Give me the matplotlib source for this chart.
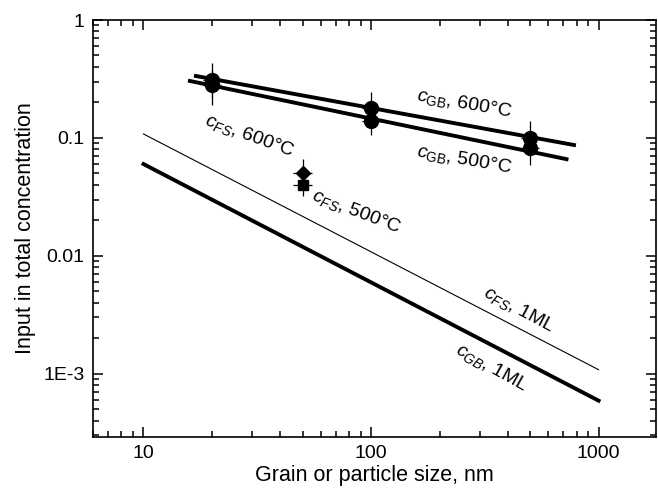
import matplotlib
matplotlib.use("Agg")
import matplotlib.pyplot as plt
from matplotlib.ticker import LogLocator, FixedLocator, FixedFormatter, NullFormatter

plt.rcParams['font.family'] = ['Liberation Sans', 'DejaVu Sans']
plt.rcParams['mathtext.fontset'] = 'custom'
plt.rcParams['mathtext.rm'] = 'Liberation Sans'
plt.rcParams['mathtext.it'] = 'Liberation Sans:italic'

# Data
size_pts = [20, 100, 500]
gb600 = [0.31, 0.18, 0.10]
gb600_lo = [0.22, 0.13, 0.07]
gb600_hi = [0.43, 0.245, 0.14]
gb500 = [0.28, 0.14, 0.082]
gb500_lo = [0.19, 0.106, 0.059]
gb500_hi = [0.38, 0.19, 0.115]

fs_size = [50]
fs600 = [0.050]
fs600_lo = [0.038]
fs600_hi = [0.066]
fs500 = [0.040]
fs500_lo = [0.032]
fs500_hi = [0.052]

fit600_x = [17, 780]
fit600_y = [0.335, 0.087]
fit500_x = [16, 723]
fit500_y = [0.304, 0.066]

ml_x = [10, 1000]
fs1ml_y = [0.108, 0.00108]
gb1ml_y = [0.060, 0.00059]

xticks = [10, 100, 1000]
xticklabels = ['10', '100', '1000']
yticks = [1e-3, 1e-2, 1e-1, 1]
yticklabels = ['1E-3', '0.01', '0.1', '1']

fig = plt.figure(figsize=(6.58, 4.88), dpi=100)
ax = fig.add_axes([0.1413, 0.1045, 0.855, 0.8545])
ax.set_xscale('log')
ax.set_yscale('log')

ax.plot(ml_x, fs1ml_y, color='black', lw=0.8)
ax.plot(ml_x, gb1ml_y, color='black', lw=2.8)
ax.plot(fit600_x, fit600_y, color='black', lw=2.8)
ax.plot(fit500_x, fit500_y, color='black', lw=2.8)

def eb(x, y, lo, hi, marker, ms):
    yerr = [[v - l for v, l in zip(y, lo)], [h - v for v, h in zip(y, hi)]]
    xerr = [[v * 0.09 for v in x], [v * 0.1 for v in x]]
    ax.errorbar(x, y, yerr=yerr, xerr=xerr, fmt=marker, color='black',
                ms=ms, elinewidth=0.9, capsize=0, zorder=3)

eb(size_pts, gb600, gb600_lo, gb600_hi, 'o', 10)
eb(size_pts, gb500, gb500_lo, gb500_hi, 'o', 10)
eb(fs_size, fs600, fs600_lo, fs600_hi, 'D', 7)
eb(fs_size, fs500, fs500_lo, fs500_hi, 's', 7)

ax.set_xlim(6, 1780)
ax.set_ylim(2.9e-4, 1)

ax.xaxis.set_major_locator(FixedLocator(xticks))
ax.xaxis.set_major_formatter(FixedFormatter(xticklabels))
ax.yaxis.set_major_locator(FixedLocator(yticks))
ax.yaxis.set_major_formatter(FixedFormatter(yticklabels))
ax.xaxis.set_minor_locator(LogLocator(base=10, subs=range(2, 10), numticks=20))
ax.yaxis.set_minor_locator(LogLocator(base=10, subs=range(2, 10), numticks=20))
ax.xaxis.set_minor_formatter(NullFormatter())
ax.yaxis.set_minor_formatter(NullFormatter())

ax.tick_params(which='both', direction='in', top=True, right=True, width=1.1, labelsize=14)
ax.tick_params(which='major', length=7)
ax.tick_params(which='minor', length=4)
ax.tick_params(axis='x', pad=6)
ax.tick_params(axis='y', pad=6)
for s in ax.spines.values():
    s.set_linewidth(1.2)

ax.set_xlabel('Grain or particle size, nm', fontsize=15.5, labelpad=2)
ax.set_ylabel('Input in total concentration', fontsize=15.5, labelpad=5)

kw = dict(fontsize=14, ha='center', va='center', rotation_mode='anchor')
ax.text(258, 0.194, r'$c_{\mathrm{GB}}$, 600°C', rotation=-10, **kw)
ax.text(257, 0.066, r'$c_{\mathrm{GB}}$, 500°C', rotation=-10, **kw)
ax.text(29.2, 0.104, r'$c_{FS}$, 600°C', rotation=-20, **kw)
ax.text(86, 0.0235, r'$c_{FS}$, 500°C', rotation=-21, **kw)
ax.text(449, 0.0035, r'$c_{FS}$, 1ML', rotation=-28, **kw)
ax.text(338, 0.00113, r'$c_{GB}$, 1ML', rotation=-29, **kw)

fig.savefig('out.png', dpi=100)
